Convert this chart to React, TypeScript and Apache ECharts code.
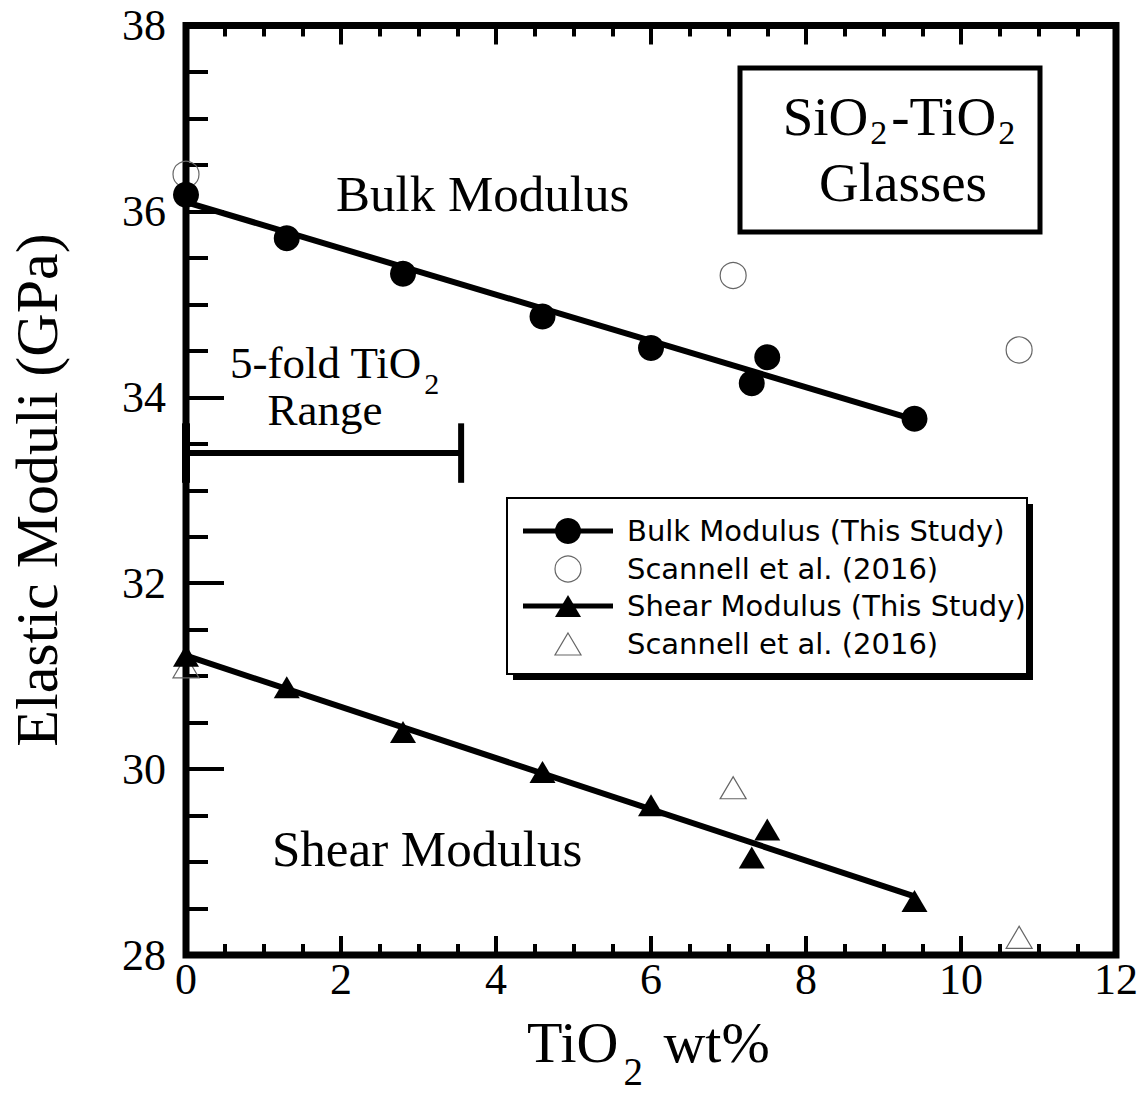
import React, { useEffect, useRef } from "react";
import * as echarts from "echarts";

// ---- data ----
const X_TICKS = [0, 2, 4, 6, 8, 10, 12];
const Y_TICKS = [28, 30, 32, 34, 36, 38];
const MINOR_STEP = 0.5;

const BULK_X = [0, 1.3, 2.8, 4.6, 6.0, 7.3, 7.5, 9.4];
const BULK_Y = [36.18, 35.71, 35.33, 34.87, 34.53, 34.15, 34.43, 33.77];
const BULK_SC_X = [0, 7.06, 10.75];
const BULK_SC_Y = [36.4, 35.31, 34.51];

const SHEAR_X = [0, 1.3, 2.8, 4.6, 6.0, 7.3, 7.5, 9.4];
const SHEAR_Y = [31.22, 30.88, 30.4, 29.97, 29.61, 29.05, 29.35, 28.58];
const SHEAR_SC_X = [0, 7.06, 10.75];
const SHEAR_SC_Y = [31.1, 29.8, 28.19];

const BULK_FIT_X = [0, 9.4];
const BULK_FIT_Y = [36.1, 33.76];
const SHEAR_FIT_X = [0, 9.4];
const SHEAR_FIT_Y = [31.22, 28.63];

const RANGE_X = [0, 3.55];
const RANGE_Y = 33.4;
const RANGE_CAP = [33.08, 33.72];

const LEGEND_LABELS = [
  "Bulk Modulus (This Study)",
  "Scannell et al. (2016)",
  "Shear Modulus (This Study)",
  "Scannell et al. (2016)",
];

const SERIF = "'Liberation Serif', 'Times New Roman', serif";
const SANS = "'DejaVu Sans', Verdana, sans-serif";

function measure(text: string, size: number, family: string) {
  const c = document.createElement("canvas").getContext("2d");
  if (!c) return text.length * size * 0.5;
  c.font = `${size}px ${family}`;
  return c.measureText(text).width;
}

// parts: [text, fontSize, baselineShift, gapAfter]
type Part = [string, number, number, number];

function lineWidth(parts: Part[], family: string) {
  let w = 0;
  for (const [t, fs, , g] of parts) w += measure(t, fs, family) + g;
  return w;
}

function richLine(parts: Part[], startX: number, baseline: number, family: string) {
  const els: any[] = [];
  let x = startX;
  for (const [t, fs, shift, gap] of parts) {
    els.push({
      type: "text",
      x,
      y: baseline + shift - 0.33 * fs,
      style: {
        text: t,
        fontSize: fs,
        lineHeight: fs * 0.8,
        fontFamily: family,
        fill: "#000",
        align: "left",
        verticalAlign: "middle",
      },
    });
    x += measure(t, fs, family) + gap;
  }
  return els;
}

export default function App() {
  const ref = useRef<HTMLDivElement>(null);

  useEffect(() => {
    document.body.style.margin = "0";
    if (!ref.current) return;
    const chart = echarts.init(ref.current, undefined, { renderer: "svg" });

    const pair = (xs: number[], ys: number[]) => xs.map((x, i) => [x, ys[i]]);

    const xMin = X_TICKS[0], xMax = X_TICKS[X_TICKS.length - 1];
    const yMin = Y_TICKS[0], yMax = Y_TICKS[Y_TICKS.length - 1];
    const xMajorInt = X_TICKS[1] - X_TICKS[0];
    const yMajorInt = Y_TICKS[1] - Y_TICKS[0];

    const base = { axisLine: { show: false }, splitLine: { show: false }, minorTick: { show: false } };
    const noLabel = { show: false };
    // tick axes: shifted inward by the tick length, with ticks pointing outward -> ticks lie inside the frame
    const tickAxis = (kind: "x" | "y", position: string, interval: number, len: number) => ({
      type: "value",
      min: kind === "x" ? xMin : yMin,
      max: kind === "x" ? xMax : yMax,
      interval,
      position,
      offset: -len,
      ...base,
      axisTick: { show: true, inside: false, length: len, lineStyle: { width: 4, color: "#000" } },
      axisLabel: noLabel,
    });

    // legend graphic
    const LX = 507, LY = 498, LW = 520, LH = 176;
    const rowY = [531, 569, 606, 644];
    const lineX0 = 523, lineX1 = 613, symX = 568;
    const tri = (cx: number, cy: number, w: number, h: number) => [
      [cx, cy - h / 2],
      [cx + w / 2, cy + h / 2],
      [cx - w / 2, cy + h / 2],
    ];
    const legendEls: any[] = [
      { type: "rect", shape: { x: LX + 6, y: LY + 6, width: LW, height: LH }, style: { fill: "#000" } },
      { type: "rect", shape: { x: LX, y: LY, width: LW, height: LH }, style: { fill: "#fff", stroke: "#000", lineWidth: 2 } },
      { type: "line", shape: { x1: lineX0, y1: rowY[0], x2: lineX1, y2: rowY[0] }, style: { stroke: "#000", lineWidth: 5 } },
      { type: "circle", shape: { cx: symX, cy: rowY[0], r: 13 }, style: { fill: "#000" } },
      { type: "circle", shape: { cx: symX, cy: rowY[1], r: 13 }, style: { fill: "none", stroke: "#666", lineWidth: 1.2 } },
      { type: "line", shape: { x1: lineX0, y1: rowY[2], x2: lineX1, y2: rowY[2] }, style: { stroke: "#000", lineWidth: 5 } },
      { type: "polygon", shape: { points: tri(symX, rowY[2], 26, 22) }, style: { fill: "#000" } },
      { type: "polygon", shape: { points: tri(symX, rowY[3], 26, 22) }, style: { fill: "none", stroke: "#666", lineWidth: 1.2 } },
      ...LEGEND_LABELS.map((t, i) => ({
        type: "text",
        x: 627,
        y: rowY[i],
        style: { text: t, fontSize: 29, fontFamily: SANS, fill: "#000", align: "left", verticalAlign: "middle" },
      })),
    ];

    const sioParts: Part[] = [
      ["SiO", 55, 0, 2],
      ["2", 34, 9, 4],
      ["-TiO", 55, 0, 2],
      ["2", 34, 9, 0],
    ];
    const xTitleParts: Part[] = [
      ["TiO", 58, 0, 5],
      ["2", 39, 22, 6],
      [" wt%", 58, 0, 0],
    ];
    const foldParts: Part[] = [
      ["5-fold TiO", 45, 0, 2],
      ["2", 30, 15, 0],
    ];

    const graphics: any[] = [
      // title box
      { type: "rect", shape: { x: 740, y: 68, width: 300, height: 164 }, style: { fill: "none", stroke: "#000", lineWidth: 5 } },
      ...richLine(sioParts, 899 - lineWidth(sioParts, SERIF) / 2, 135, SERIF),
      {
        type: "text", x: 903, y: 201 - 0.33 * 55,
        style: { text: "Glasses", fontSize: 55, lineHeight: 44, fontFamily: SERIF, fill: "#000", align: "center", verticalAlign: "middle" },
      },
      {
        type: "text", x: 336, y: 211 - 0.33 * 51,
        style: { text: "Bulk Modulus", fontSize: 51, fontFamily: SERIF, fill: "#000", align: "left", verticalAlign: "middle" },
      },
      {
        type: "text", x: 272, y: 866 - 0.33 * 51,
        style: { text: "Shear Modulus", fontSize: 51, fontFamily: SERIF, fill: "#000", align: "left", verticalAlign: "middle" },
      },
      ...richLine(foldParts, 230, 378, SERIF),
      {
        type: "text", x: 325, y: 425 - 0.33 * 45,
        style: { text: "Range", fontSize: 45, lineHeight: 36, fontFamily: SERIF, fill: "#000", align: "center", verticalAlign: "middle" },
      },
      ...richLine(xTitleParts, 527, 1062, SERIF),
      {
        type: "text", x: 37, y: 490, rotation: Math.PI / 2,
        style: { text: "Elastic Moduli (GPa)", fontSize: 60, fontFamily: SERIF, fill: "#000", align: "center", verticalAlign: "middle" },
      },
      ...legendEls,
    ];

    chart.setOption({
      animation: false,
      backgroundColor: "#fff",
      grid: {
        left: 186, top: 25.5, right: 32, bottom: 140,
        show: true, borderColor: "#000", borderWidth: 7, backgroundColor: "transparent",
      },
      xAxis: [
        {
          type: "value", min: xMin, max: xMax, interval: xMajorInt, position: "bottom", ...base,
          axisTick: { show: false },
          axisLabel: { show: true, margin: 2, fontSize: 44, fontFamily: SERIF, color: "#000" },
        },
        tickAxis("x", "bottom", xMajorInt, 19),
        tickAxis("x", "bottom", MINOR_STEP, 11),
        tickAxis("x", "top", xMajorInt, 19),
        tickAxis("x", "top", MINOR_STEP, 11),
      ],
      yAxis: [
        {
          type: "value", min: yMin, max: yMax, interval: yMajorInt, position: "left", ...base,
          axisTick: { show: false },
          axisLabel: { show: true, margin: 20, fontSize: 44, fontFamily: SERIF, color: "#000" },
        },
        tickAxis("y", "left", yMajorInt, 19),
        tickAxis("y", "left", MINOR_STEP, 11),
        tickAxis("y", "right", yMajorInt, 19),
        tickAxis("y", "right", MINOR_STEP, 11),
      ],
      series: [
        {
          name: "range", type: "line", data: [[RANGE_X[0], RANGE_Y], [RANGE_X[1], RANGE_Y]],
          symbol: "none", lineStyle: { color: "#000", width: 6 }, z: 3,
        },
        {
          name: "range cap right", type: "line", data: [[RANGE_X[1], RANGE_CAP[0]], [RANGE_X[1], RANGE_CAP[1]]],
          symbol: "none", lineStyle: { color: "#000", width: 6 }, z: 3,
        },
        {
          name: "range cap left", type: "line", data: [[RANGE_X[0], RANGE_CAP[0]], [RANGE_X[0], RANGE_CAP[1]]],
          symbol: "none", lineStyle: { color: "#000", width: 8 }, z: 3,
        },
        {
          name: "Bulk fit", type: "line", data: pair(BULK_FIT_X, BULK_FIT_Y),
          symbol: "none", lineStyle: { color: "#000", width: 6 }, z: 3,
        },
        {
          name: "Shear fit", type: "line", data: pair(SHEAR_FIT_X, SHEAR_FIT_Y),
          symbol: "none", lineStyle: { color: "#000", width: 6 }, z: 3,
        },
        {
          name: "Bulk Scannell", type: "scatter", data: pair(BULK_SC_X, BULK_SC_Y),
          symbol: "circle", symbolSize: 26,
          itemStyle: { color: "rgba(0,0,0,0)", borderColor: "#666", borderWidth: 1.2, opacity: 1 }, z: 4,
        },
        {
          name: "Shear Scannell", type: "scatter", data: pair(SHEAR_SC_X, SHEAR_SC_Y),
          symbol: "triangle", symbolSize: [26, 22],
          itemStyle: { color: "rgba(0,0,0,0)", borderColor: "#666", borderWidth: 1.2, opacity: 1 }, z: 4,
        },
        {
          name: "Bulk Modulus (This Study)", type: "scatter", data: pair(BULK_X, BULK_Y),
          symbol: "circle", symbolSize: 26, itemStyle: { color: "#000", opacity: 1 }, z: 5,
        },
        {
          name: "Shear Modulus (This Study)", type: "scatter", data: pair(SHEAR_X, SHEAR_Y),
          symbol: "triangle", symbolSize: [26, 22], itemStyle: { color: "#000", opacity: 1 }, z: 5,
        },
      ],
      graphic: graphics,
    });

    return () => chart.dispose();
  }, []);

  return <div ref={ref} style={{ width: 1148, height: 1095 }} />;
}
